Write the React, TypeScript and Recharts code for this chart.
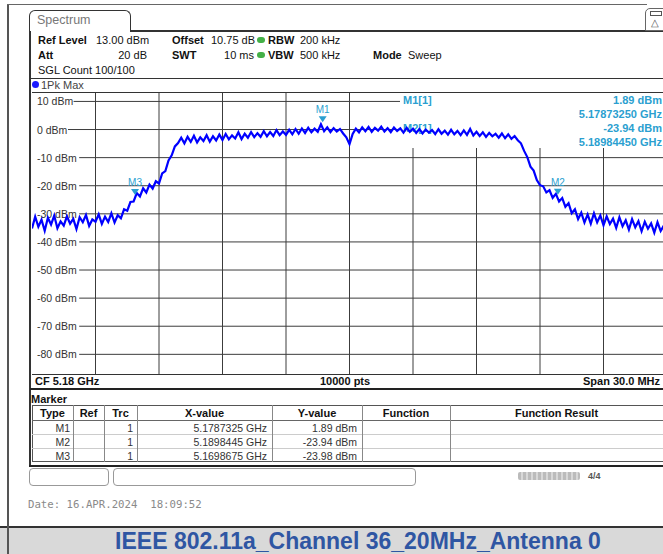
import React from "react";
import { LineChart, Line, XAxis, YAxis, ReferenceLine, ReferenceDot } from "recharts";

// sweep: 5165 .. 5195 MHz, one reading every 0.15 MHz
const startMHz = 5165;
const stepMHz = 0.15;
const traceDbm = [
  // 5165 - 5168
  -35.2, -31.0, -34.6, -32.1, -36.0, -31.4, -33.8, -30.6, -35.1, -32.7, -34.2, -30.9, -33.5, -31.8, -35.4, -31.2, -33.0, -30.4, -34.3, -32.0,
  // 5168 - 5171
  -32.8, -30.2, -33.6, -31.0, -32.9, -29.8, -33.1, -30.5, -31.6, -28.4, -28.9, -25.8, -25.6, -22.6, -23.8, -20.9, -22.4, -19.6, -21.0, -18.4,
  // 5171 - 5174
  -19.2, -15.6, -14.8, -11.0, -9.2, -6.0, -4.8, -2.9, -4.9, -2.6, -4.4, -2.2, -4.6, -2.8, -4.1, -2.0, -4.3, -2.4, -3.9, -1.8,
  // 5174 - 5177
  -3.7, -1.6, -3.5, -2.1, -3.2, -1.0, -3.4, -1.5, -2.9, -0.9, -2.7, -1.3, -2.6, -0.6, -2.4, -0.9, -2.3, -0.2, -2.0, -0.7,
  // 5177 - 5180
  -1.9, -0.1, -1.7, 0.2, -1.5, 0.4, -1.2, 0.6, -1.0, 0.3, -0.8, 1.89, -0.6, 0.8, -0.9, 0.5, -0.7, 0.2, -1.4, -2.8,
  // 5180 - 5183
  -5.2, -1.6, 0.3, -1.0, 0.8, -0.6, 0.9, -0.8, 0.6, -0.4, 1.0, -0.7, 0.5, -0.9, 0.7, -0.5, 0.4, -1.1, 0.6, -0.8,
  // 5183 - 5186
  0.3, -1.2, 0.2, -1.4, 0.0, -1.1, -0.2, -1.6, 0.1, -1.5, -0.4, -1.8, -0.1, -1.7, -0.5, -2.0, -0.3, -1.9, 0.2, -2.1,
  // 5186 - 5189
  -0.8, -2.3, -1.0, -2.6, -1.2, -2.4, -1.5, -2.9, -1.4, -3.1, -1.7, -3.3, -2.3, -3.8, -4.9, -7.6, -9.8, -13.2, -14.6, -18.0,
  // 5189 - 5192
  -19.8, -20.2, -22.4, -21.6, -24.3, -22.9, -25.6, -24.4, -27.5, -26.2, -29.8, -28.4, -31.9, -29.6, -33.1, -30.2, -33.5, -29.8, -33.0, -30.6,
  // 5192 - 5195
  -34.1, -30.9, -33.6, -31.7, -35.0, -31.2, -34.4, -32.3, -35.6, -31.9, -34.8, -32.6, -36.2, -32.8, -35.3, -33.4, -36.7, -33.0, -36.1, -34.2,
  -36.8,
];

const yTicks = [10, 0, -10, -20, -30, -40, -50, -60, -70, -80];
const xGridMHz = [5168, 5171, 5174, 5177, 5180, 5183, 5186, 5189, 5192];

const markerNames = ["M1", "M2", "M3"];
const markerMHz = [5178.7325, 5189.8445, 5169.8675];
const markerDbm = [1.89, -23.94, -23.98];

const data = traceDbm.map((v, i) => ({ f: startMHz + i * stepMHz, dbm: v }));

// plot box on the page
const PL = 32;
const PT = 93;
const PW = 635;
const PH = 281;
const Y_TOP = 13;
const Y_BOT = -87;

const pxToMHz = (px: number) => startMHz + ((px - PL) * 30) / PW;
const pxToDbm = (py: number) => Y_TOP - ((py - PT) * (Y_TOP - Y_BOT)) / PH;
const dbmToPx = (v: number) => PT + ((Y_TOP - v) * PH) / (Y_TOP - Y_BOT);

const GRID = "#3c3c3c";
const TEAL = "#2b9fd0";
const FONT = "'Liberation Sans', Arial, sans-serif";

// marker readout box hides the grid up here
const boxLeftMHz = pxToMHz(400);
const boxBottomDbm = pxToDbm(148);

function T({ x, y, r, children, style }: any) {
  const pos: any = { position: "absolute", top: y, whiteSpace: "nowrap", lineHeight: "12px" };
  if (r !== undefined) pos.right = 663 - r;
  else pos.left = x;
  return <div style={{ ...pos, ...style }}>{children}</div>;
}

function Box({ x, y, w, h, style }: any) {
  return <div style={{ position: "absolute", left: x, top: y, width: w, height: h, boxSizing: "border-box", ...style }} />;
}

const MarkerShape = (name: string) => (props: any) => {
  const { cx, cy } = props;
  return (
    <g>
      <polygon points={`${cx - 4},${cy - 8} ${cx + 4},${cy - 8} ${cx},${cy - 2}`} fill={TEAL} />
      <text x={cx} y={cy - 11} textAnchor="middle" fontSize={10} fill={TEAL} fontFamily={FONT}>
        {name}
      </text>
    </g>
  );
};

const tableCols = [32, 73, 104, 137, 272, 362, 450, 663];
const tableHeads = ["Type", "Ref", "Trc", "X-value", "Y-value", "Function", "Function Result"];

export default function App() {
  const bold = { fontWeight: "bold" };
  return (
    <div
      style={{
        position: "absolute",
        left: 0,
        top: 0,
        width: 663,
        height: 554,
        overflow: "hidden",
        background: "#fff",
        fontFamily: FONT,
        fontSize: 11,
        color: "#111",
      }}
    >
      {/* outer screenshot frame */}
      <Box x={7} y={4} w={2} h={523} style={{ background: "#555" }} />
      <Box x={7} y={4} w={640} h={1} style={{ background: "#666" }} />

      {/* tab */}
      <Box x={29} y={10} w={102} h={22} style={{ border: "1px solid #333", borderBottom: "none", borderRadius: "6px 6px 0 0", background: "#fff" }} />
      <T x={37} y={14} style={{ fontSize: 12.5, color: "#777" }}>Spectrum</T>
      <Box x={130} y={30} w={533} h={2} style={{ background: "#333" }} />
      <Box x={645} y={8} w={20} h={23} style={{ border: "1px solid #666", borderRadius: "5px 0 0 0" }} />
      <Box x={650} y={11} w={12} h={5} style={{ border: "1px solid #555" }} />
      <T x={651} y={17} style={{ fontSize: 10, color: "#555" }}>△</T>

      {/* panel left edge */}
      <Box x={29} y={31} w={2} h={436} style={{ background: "#333" }} />

      {/* settings */}
      <T x={38} y={34} style={bold}>Ref Level</T>
      <T x={96} y={34}>13.00 dBm</T>
      <T x={172} y={34} style={bold}>Offset</T>
      <T x={211} y={34}>10.75 dB</T>
      <Box x={257} y={37} w={8} h={6} style={{ background: "#43b047", borderRadius: 3 }} />
      <T x={268} y={34} style={bold}>RBW</T>
      <T x={300} y={34}>200 kHz</T>

      <T x={38} y={49} style={bold}>Att</T>
      <T r={147} y={49}>20 dB</T>
      <T x={172} y={49} style={bold}>SWT</T>
      <T r={254} y={49}>10 ms</T>
      <Box x={257} y={52} w={8} h={6} style={{ background: "#43b047", borderRadius: 3 }} />
      <T x={268} y={49} style={bold}>VBW</T>
      <T x={300} y={49}>500 kHz</T>
      <T x={373} y={49} style={bold}>Mode</T>
      <T x={408} y={49}>Sweep</T>

      <T x={38} y={64}>SGL Count 100/100</T>

      {/* plot frame */}
      <Box x={30} y={78} w={633} h={1} style={{ background: "#333" }} />
      <Box x={32} y={81} w={7} h={7} style={{ background: "#1a1aff", borderRadius: 4 }} />
      <T x={41} y={79} style={{ color: "#444" }}>1Pk Max</T>
      <Box x={32} y={92} w={631} h={1} style={{ background: "#333" }} />
      <Box x={32} y={374} w={631} h={1} style={{ background: "#333" }} />
      <T x={35} y={375} style={bold}>CF 5.18 GHz</T>
      <T x={320} y={375} style={bold}>10000 pts</T>
      <T r={660} y={375} style={bold}>Span 30.0 MHz</T>
      <Box x={30} y={388} w={633} h={2} style={{ background: "#222" }} />

      {/* dBm labels sit under the trace */}
      {yTicks.map((v) => (
        <T key={v} x={37} y={dbmToPx(v) - 6} style={{ fontSize: 10.5, color: "#333" }}>
          {v} dBm
        </T>
      ))}

      {/* marker readout */}
      <T x={403} y={94} style={{ ...bold, color: TEAL }}>M1[1]</T>
      <T r={662} y={94} style={{ ...bold, color: TEAL }}>{markerDbm[0].toFixed(2)} dBm</T>
      <T r={662} y={108} style={{ ...bold, color: TEAL }}>{(markerMHz[0] / 1000).toFixed(8)} GHz</T>
      <T x={403} y={122} style={{ ...bold, color: TEAL }}>M2[1]</T>
      <T r={662} y={122} style={{ ...bold, color: TEAL }}>{markerDbm[1].toFixed(2)} dBm</T>
      <T r={662} y={136} style={{ ...bold, color: TEAL }}>{(markerMHz[1] / 1000).toFixed(8)} GHz</T>

      {/* marker table */}
      <T x={31} y={393} style={bold}>Marker</T>
      <Box x={32} y={405} w={631} h={57} style={{ border: "1px solid #555", borderRight: "none" }} />
      <Box x={32} y={420} w={631} h={1} style={{ background: "#666" }} />
      <Box x={32} y={434} w={631} h={1} style={{ background: "#ccc" }} />
      <Box x={32} y={448} w={631} h={1} style={{ background: "#ccc" }} />
      {tableCols.slice(1, -1).map((c) => (
        <Box key={c} x={c} y={405} w={1} h={57} style={{ background: "#888" }} />
      ))}
      {tableHeads.map((h, i) => (
        <div
          key={h}
          style={{
            position: "absolute",
            left: tableCols[i],
            width: tableCols[i + 1] - tableCols[i],
            top: 407,
            textAlign: "center",
            lineHeight: "12px",
            ...bold,
          }}
        >
          {h}
        </div>
      ))}
      {markerNames.map((m, i) => {
        const y = 422 + i * 14;
        const s = { fontSize: 10.5, color: "#333" };
        return (
          <React.Fragment key={m}>
            <T r={70} y={y} style={s}>{m}</T>
            <T r={133} y={y} style={s}>1</T>
            <T r={267} y={y} style={s}>{(markerMHz[i] / 1000).toFixed(7)} GHz</T>
            <T r={357} y={y} style={s}>{markerDbm[i].toFixed(2)} dBm</T>
          </React.Fragment>
        );
      })}
      <Box x={29} y={465} w={634} h={2} style={{ background: "#222" }} />

      {/* softkey bar */}
      <Box x={29} y={468} w={80} h={18} style={{ border: "1px solid #999", borderRadius: 4 }} />
      <Box x={113} y={468} w={303} h={18} style={{ border: "1px solid #999", borderRadius: 4 }} />
      <Box
        x={518}
        y={472}
        w={62}
        h={8}
        style={{ background: "repeating-linear-gradient(90deg,#bbb 0 3px,#d8d8d8 3px 5px)", borderRadius: 2 }}
      />
      <T x={588} y={470} style={{ fontSize: 9, color: "#555", fontWeight: "bold" }}>4/4</T>

      <T x={28} y={499} style={{ fontFamily: "'DejaVu Sans Mono', monospace", fontSize: 10.7, color: "#8a8a8a" }}>
        Date: 16.APR.2024&nbsp;&nbsp;18:09:52
      </T>

      {/* caption band */}
      <Box x={0} y={526} w={663} h={28} style={{ background: "#d9d9d9", borderTop: "2px solid #333" }} />
      <Box x={7} y={526} w={2} h={28} style={{ background: "#555" }} />
      <div
        style={{
          position: "absolute",
          left: 0,
          width: 716,
          top: 528,
          lineHeight: "26px",
          textAlign: "center",
          fontWeight: "bold",
          fontSize: 23,
          color: "#2f56a3",
        }}
      >
        IEEE 802.11a_Channel 36_20MHz_Antenna 0
      </div>

      {/* trace */}
      <div style={{ position: "absolute", left: PL, top: PT }}>
        <LineChart width={PW} height={PH} data={data} margin={{ top: 0, right: 0, bottom: 0, left: 0 }}>
          <XAxis dataKey="f" type="number" domain={[5165, 5195]} hide />
          <YAxis type="number" domain={[Y_BOT, Y_TOP]} hide allowDataOverflow />
          {yTicks.map((v) => {
            const x0 = pxToMHz(37 + `${v} dBm`.length * 5.6 + 3);
            const x1 = v >= 0 ? boxLeftMHz : 5195;
            return (
              <ReferenceLine
                key={`h${v}`}
                segment={[
                  { x: x0, y: v },
                  { x: x1, y: v },
                ]}
                stroke={GRID}
                strokeWidth={1}
              />
            );
          })}
          {xGridMHz.map((f) => (
            <ReferenceLine
              key={`v${f}`}
              segment={[
                { x: f, y: Y_BOT },
                { x: f, y: f > 5180 ? boxBottomDbm : Y_TOP },
              ]}
              stroke={GRID}
              strokeWidth={1}
            />
          ))}
          <Line
            dataKey="dbm"
            type="linear"
            stroke="#0000ff"
            strokeWidth={2.2}
            dot={false}
            isAnimationActive={false}
          />
          {markerNames.map((m, i) => (
            <ReferenceDot key={m} x={markerMHz[i]} y={markerDbm[i]} r={0} shape={MarkerShape(m)} />
          ))}
        </LineChart>
      </div>
    </div>
  );
}
